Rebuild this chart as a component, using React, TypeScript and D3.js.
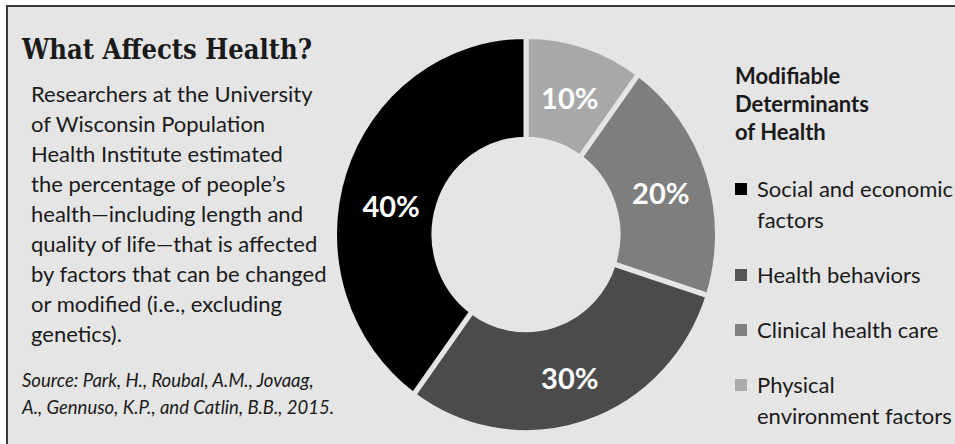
import React from "react";
import * as d3 from "d3";

const categories = ["Physical environment factors", "Clinical health care", "Health behaviors", "Social and economic factors"];
const values = [10, 20, 30, 40];
const sliceColors = ["#a8a8a8", "#7e7e7e", "#4b4b4b", "#000000"];

const legendItems = [
  ["Social and economic", "factors"],
  ["Health behaviors"],
  ["Clinical health care"],
  ["Physical", "environment factors"],
];
const legendColors = ["#000000", "#555555", "#808080", "#ababab"];
const legendTitle = ["Modifiable", "Determinants", "of Health"];

const title = "What Affects Health?";
const bodyLines = [
  "Researchers at the University",
  "of Wisconsin Population",
  "Health Institute estimated",
  "the percentage of people\u2019s",
  "health\u2014including length and",
  "quality of life\u2014that is affected",
  "by factors that can be changed",
  "or modified (i.e., excluding",
  "genetics).",
];
const sourceLines = [
  "Source: Park, H., Roubal, A.M., Jovaag,",
  "A., Gennuso, K.P., and Catlin, B.B., 2015.",
];

const W = 955;
const H = 444;
const BG = "#e5e5e5";
const TXT = "#1a1a1a";
const SANS = "Lato, 'Open Sans', sans-serif";

export default function App() {
  const cx = 526;
  const cy = 234.5;
  const sy = 1.035;
  const rOuter = 191.5;
  const rInner = 92;

  const pie = d3
    .pie<number>()
    .sort(null)
    .value((d) => d);
  const arcs = pie(values);
  const arc = d3.arc<d3.PieArcDatum<number>>().innerRadius(rInner).outerRadius(rOuter);
  const labelArc = d3
    .arc<d3.PieArcDatum<number>>()
    .innerRadius((rInner + rOuter) / 2)
    .outerRadius((rInner + rOuter) / 2);

  const legendBaselines = [197, 283, 338, 393];

  return (
    <svg
      width={W}
      height={H}
      style={{ position: "absolute", left: 0, top: 0, display: "block" }}
    >
      <rect x={0} y={0} width={W} height={H} fill="#ffffff" />
      <rect x={7} y={6} width={W} height={H} fill={BG} />
      <line x1={6} y1={6} x2={W} y2={6} stroke="#3a3a3a" strokeWidth={2} />
      <line x1={7} y1={5} x2={7} y2={H} stroke="#3a3a3a" strokeWidth={2} />

      <text
        x={22}
        y={59}
        fontFamily="'DejaVu Serif', serif"
        fontWeight="bold"
        fontSize={28}
        fill={TXT}
        textLength={290}
        lengthAdjust="spacingAndGlyphs"
      >
        {title}
      </text>

      {bodyLines.map((t, i) => (
        <text key={i} x={31} y={102 + i * 30} fontFamily={SANS} fontSize={22} fill={TXT}>
          {t}
        </text>
      ))}

      {sourceLines.map((t, i) => (
        <text
          key={i}
          x={22}
          y={387 + i * 27}
          fontFamily={SANS}
          fontStyle="italic"
          fontSize={18.5}
          fill={TXT}
        >
          {t}
        </text>
      ))}

      <g transform={`translate(${cx},${cy}) scale(1,${sy})`}>
        {arcs.map((a, i) => (
          <path key={categories[i]} d={arc(a) || ""} fill={sliceColors[i]} stroke={BG} strokeWidth={5} />
        ))}
      </g>

      {arcs.map((a, i) => {
        const [lx, ly] = labelArc.centroid(a);
        const extra = i === 3 ? 16 : 3;
        return (
          <text
            key={"l" + i}
            x={cx + lx}
            y={cy + ly * sy + extra}
            textAnchor="middle"
            dominantBaseline="central"
            fontFamily={SANS}
            fontWeight="bold"
            fontSize={29}
            fill="#ffffff"
          >
            {`${values[i]}%`}
          </text>
        );
      })}

      {legendTitle.map((t, i) => (
        <text key={"t" + i} x={735} y={84 + i * 28} fontFamily={SANS} fontWeight="bold" fontSize={22} fill={TXT}>
          {t}
        </text>
      ))}

      {legendItems.map((lines, i) => (
        <g key={"li" + i}>
          <rect x={735} y={legendBaselines[i] - 14} width={12} height={12} fill={legendColors[i]} />
          {lines.map((t, j) => (
            <text key={j} x={757} y={legendBaselines[i] + j * 31} fontFamily={SANS} fontSize={22} fill={TXT}>
              {t}
            </text>
          ))}
        </g>
      ))}
    </svg>
  );
}
